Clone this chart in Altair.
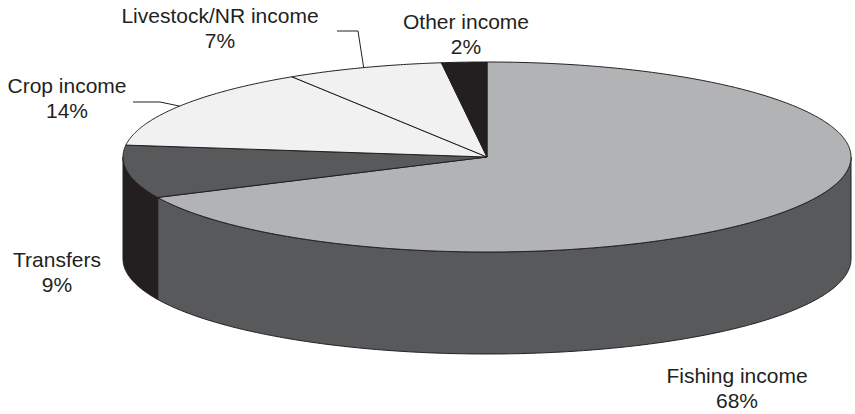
import math

import altair as alt
import pandas as pd

# Income shares (percent), clockwise from 12 o'clock
categories = ["Fishing income", "Transfers", "Crop income", "Livestock/NR income", "Other income"]
shares = [68, 9, 14, 7, 2]

# Fill colours for the top face and the visible rim of each slice
top_colors = ["#b2b3b4", "#58595b", "#f1f1f2", "#f1f1f2", "#231f20"]
side_colors = ["#58595b", "#231f20", "#d0d0d1", "#d0d0d1", "#111111"]

# Canvas and tilted-disc geometry (pixels)
W, H = 855, 414
CX, CY = 487, 157      # centre of the top face
RX, RY = 364, 95       # ellipse radii of the top face
DEPTH = 102            # thickness of the disc
INK = "#231f20"
FONT = "Liberation Sans"

# Label placement: (centre x, first-line baseline y)
label_pos = {
    "Fishing income": (737, 383),
    "Transfers": (57, 267),
    "Crop income": (67, 93),
    "Livestock/NR income": (220, 23),
    "Other income": (466, 29),
}
LINE_GAP = 25

# Leader lines: start point and elbow; the end sits on the rim at the slice middle
leaders = {
    "Crop income": [(133, 102), (160, 102)],
    "Livestock/NR income": [(337, 31), (358, 31)],
}


def rim(theta_deg, drop=0.0):
    t = math.radians(theta_deg)
    return CX + RX * math.sin(t), CY - RY * math.cos(t) + drop


def arc(a, b, drop=0.0, step=0.5):
    n = max(2, int(abs(b - a) / step) + 1)
    return [rim(a + (b - a) * k / (n - 1), drop) for k in range(n)]


# Slice boundaries in degrees
bounds = []
acc = 0.0
for s in shares:
    a0 = acc / sum(shares) * 360.0
    acc += s
    bounds.append((a0, acc / sum(shares) * 360.0))

top_rows, side_rows = [], []
for idx, (name, (a0, a1)) in enumerate(zip(categories, bounds)):
    pts = [(CX, CY)] + arc(a0, a1) + [(CX, CY)]
    for i, (x, y) in enumerate(pts):
        top_rows.append({"poly": name, "i": i, "x": x, "y": y, "fill": top_colors[idx]})

    # front half of the disc (90..270 degrees) shows the rim
    lo, hi = max(a0, 90.0), min(a1, 270.0)
    if hi > lo:
        upper = arc(lo, hi)
        lower = arc(hi, lo, drop=DEPTH)
        pts = upper + lower + [upper[0]]
        for i, (x, y) in enumerate(pts):
            side_rows.append({"poly": name, "i": i, "x": x, "y": y, "fill": side_colors[idx]})

label_rows = []
for name, s in zip(categories, shares):
    x, y = label_pos[name]
    label_rows.append({"x": x, "y": y, "text": name})
    label_rows.append({"x": x, "y": y + LINE_GAP, "text": f"{s}%"})

leader_rows = []
for name, pts in leaders.items():
    a0, a1 = bounds[categories.index(name)]
    full = pts + [rim((a0 + a1) / 2)]
    for i, (x, y) in enumerate(full):
        leader_rows.append({"name": name, "i": i, "x": x, "y": y})

xs = alt.Scale(domain=[0, W], range=[0, W])
ys = alt.Scale(domain=[0, H], range=[0, H])
X = alt.X("x:Q", scale=xs, axis=None)
Y = alt.Y("y:Q", scale=ys, axis=None)

sides = alt.Chart(pd.DataFrame(side_rows)).mark_line(
    stroke=INK, strokeWidth=1, strokeJoin="round"
).encode(
    x=X, y=Y,
    fill=alt.Fill("fill:N", scale=None),
    detail="poly:N",
    order="i:Q",
)

tops = alt.Chart(pd.DataFrame(top_rows)).mark_line(
    stroke=INK, strokeWidth=1, strokeJoin="round"
).encode(
    x=X, y=Y,
    fill=alt.Fill("fill:N", scale=None),
    detail="poly:N",
    order="i:Q",
)

leader_lines = alt.Chart(pd.DataFrame(leader_rows)).mark_line(
    color=INK, strokeWidth=1
).encode(x=X, y=Y, detail="name:N", order="i:Q")

labels = alt.Chart(pd.DataFrame(label_rows)).mark_text(
    font=FONT, fontSize=21, color=INK, align="center", baseline="alphabetic"
).encode(x=X, y=Y, text="text:N")

chart = (
    alt.layer(sides, tops, leader_lines, labels)
    .properties(width=W, height=H, padding=0, autosize="none")
    .configure_view(stroke=None)
)

chart.save("out.html", embed_options={"renderer": "svg", "actions": False})
